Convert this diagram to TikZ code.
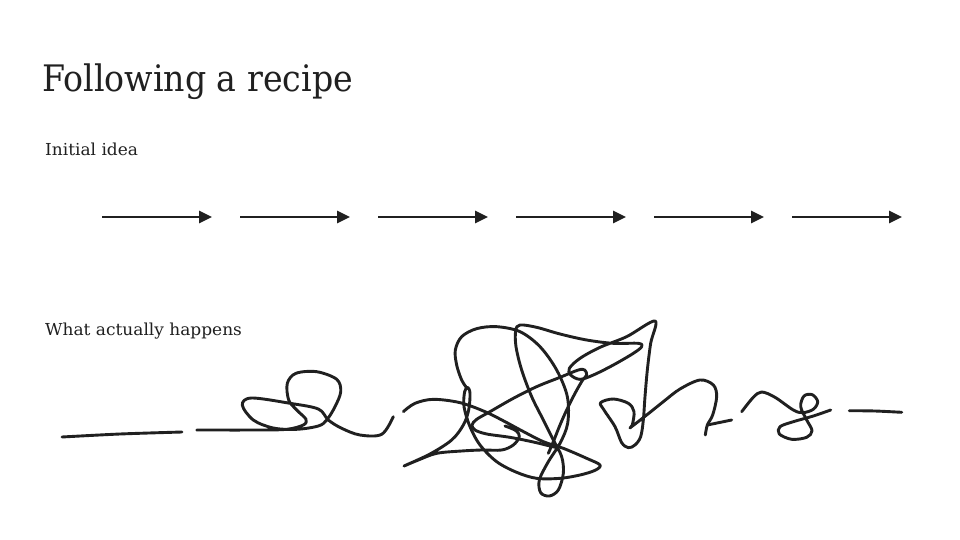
\documentclass[tikz,border=0pt]{standalone}
\usepackage{fontspec}
\setmainfont{DejaVu Serif}[FakeStretch=1.03]
\newfontfamily\titlefont{DejaVu Serif}[FakeStretch=0.91]
\usetikzlibrary{arrows.meta}
\definecolor{ink}{HTML}{202020}
\begin{document}
\begin{tikzpicture}[x=1pt,y=-1pt,
  scrib/.style={line width=2.9pt, draw=ink, line cap=round, line join=round},
  flowarrow/.style={line width=2.6pt, draw=ink, fill=ink, -{Triangle[length=13pt,width=12pt]}},
  lbl/.style={anchor=base west, inner sep=0pt, text=ink}]
\useasboundingbox (0,0) rectangle (960,540);
\fill[white] (0,0) rectangle (960,540);

\node[lbl, font=\titlefont\fontsize{36.5}{40}\selectfont] (title) at (42,92) {Following a recipe};
\node[lbl, font=\fontsize{16.5}{20}\selectfont] (idea) at (45,156) {Initial idea};
\node[lbl, font=\fontsize{16.5}{20}\selectfont] (happens) at (45,335) {What actually happens};

\foreach \i in {0,...,5}{
  \coordinate (s\i) at (102+138*\i,217);
  \coordinate (e\i) at (212+138*\i,217);
  \draw[flowarrow] (s\i) -- (e\i);
}

% scribble, left part
\draw[scrib] plot[smooth, tension=0.5] coordinates {(62,437) (120,434) (182,432)};
\draw[scrib] plot[smooth, tension=0.55] coordinates {
 (196.7,430) (256.7,430) (286.7,429.3) (303.3,425) (306,419.3) (296.7,410) (288.7,400)
 (287.3,383.3) (296,373.3) (316.7,371.7) (336.7,379.3) (340.7,391.7) (335,406.7)
 (326.7,420) (318.3,426) (296.7,429.3) (273.3,428) (253.3,420) (242.3,405) (251.7,398)
 (290,403.3) (318.3,409) (328.3,420) (341.7,428.3) (360,435) (381.7,434.3) (393.3,416.7)};

% tangle
\begin{scope}[shift={(380,310)},scale=0.33333]
\draw[scrib] plot[smooth, tension=0.55] coordinates {
 (70,305) (105,280) (160,268) (240,278) (315,305) (375,335) (425,362) (490,395) (550,415)
 (620,445) (660,465) (645,481) (600,495) (540,505) (470,505) (410,487) (350,455) (300,405)
 (270,350) (252,290) (254,245) (263,232) (270,250) (266,300) (250,345) (215,390) (150,432)
 (72,468) (115,450) (170,430) (245,423) (305,420) (365,420) (400,405) (418,380) (408,362) (375,348)};
\draw[scrib] plot[smooth, tension=0.55] coordinates {
 (262,236) (245,210) (230,165) (226,120) (245,80) (290,56) (350,50) (420,65) (480,110)
 (530,180) (562,260) (563,340) (540,400) (505,455) (478,510) (482,548) (508,558) (535,540)
 (550,490) (545,440) (520,390) (490,330) (455,260) (425,180) (408,110) (407,62) (420,45)
 (470,52) (540,72) (620,90) (700,100) (775,100) (785,110) (760,130) (700,165) (640,195)
 (600,208) (572,195) (568,175) (600,145) (660,112) (740,80) (825,33) (812,100) (802,180)
 (795,260) (790,330) (782,380) (765,405) (745,413) (725,398) (705,350) (672,300) (662,278)
 (700,267) (745,280) (762,305) (757,345) (752,352) (800,315) (850,275) (900,237) (960,210)
 (1000,225) (1010,260) (998,315) (982,345) (976,375)};
\draw[scrib] (982,345) -- (1055,330);
\draw[scrib] plot[smooth, tension=0.55] coordinates {
 (530,413) (460,396) (390,382) (320,372) (285,360) (276,345) (290,328) (330,305) (400,265)
 (470,230) (540,202) (595,180) (614,180) (620,195) (608,210) (585,250) (560,300) (540,345)
 (520,395) (505,430)};
\end{scope}

% right part
\draw[scrib] plot[smooth, tension=0.55] coordinates {
 (741.7,411.7) (753.3,397.3) (761.7,392) (775,397.3) (793.3,410) (802.7,412.7) (813.3,409.3)
 (817.7,401.7) (812.3,394.7) (804,396) (800.7,406.7) (806.7,420) (812,430.7) (806.7,437.3)
 (791.7,439.3) (779.3,434) (780,426.7) (793.3,421.7) (813.3,416) (830.7,410)};
\draw[scrib] plot[smooth, tension=0.5] coordinates {(849.3,410.7) (875,411) (901.7,412.3)};
\end{tikzpicture}
\end{document}
